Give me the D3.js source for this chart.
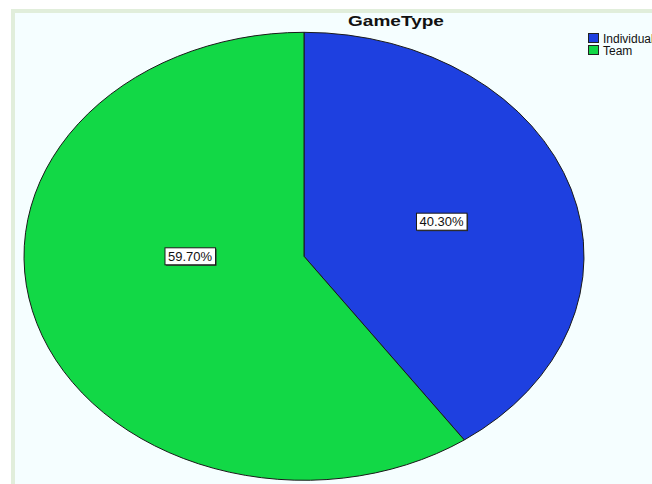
<!DOCTYPE html>
<html>
<head>
<meta charset="utf-8">
<script src="https://cdn.jsdelivr.net/npm/d3@7"></script>
<style>
  html, body { margin: 0; padding: 0; background: #ffffff; }
  svg { display: block; }
  text { font-family: "Liberation Sans", Arial, sans-serif; }
</style>
</head>
<body>
<svg id="chart" width="652" height="484"></svg>
<script>
// GameType shares
const categories = ["Individual", "Team"];
const percentages = [40.30, 59.70];
const sliceColors = ["#1e40e0", "#12d846"];
const chartTitle = "GameType";

const svg = d3.select("#chart");

// panel with a pale green frame
svg.append("rect")
  .attr("x", 13).attr("y", 11)
  .attr("width", 720).attr("height", 520)
  .attr("fill", "#f5feff")
  .attr("stroke", "#e1eedb")
  .attr("stroke-width", 4);

// title
svg.append("text")
  .attr("x", 396).attr("y", 26)
  .attr("text-anchor", "middle")
  .attr("font-size", 15)
  .attr("font-weight", "bold")
  .attr("fill", "#111")
  .attr("transform", "translate(396,0) scale(1.27,1) translate(-396,0)")
  .text(chartTitle);

// elliptical pie: circle of radius R stretched horizontally
const cx = 304, cy = 256.3, rx = 280, ry = 224;
const R = ry;
const pie = d3.pie().sort(null).value(d => d);
const arcs = pie(percentages);
const arc = d3.arc().innerRadius(0).outerRadius(R);

const g = svg.append("g")
  .attr("transform", `translate(${cx},${cy}) scale(${rx / R},1)`);

g.selectAll("path.slice")
  .data(arcs)
  .join("path")
  .attr("class", "slice")
  .attr("d", arc)
  .attr("fill", (d, i) => sliceColors[i])
  .attr("stroke", "#1a1a1a")
  .attr("stroke-width", 1)
  .attr("vector-effect", "non-scaling-stroke");

// label placement: angle (radians, clockwise from top) and radius fraction
const labelLayout = [
  { angle: d => (d.startAngle + d.endAngle) / 2, frac: 0.515 },
  { angle: d => Math.PI * 1.5, frac: 0.407 }
];

const fmt = v => v.toFixed(2) + "%";

arcs.forEach((d, i) => {
  const a = labelLayout[i].angle(d);
  const f = labelLayout[i].frac;
  const lx = cx + rx * f * Math.sin(a);
  const ly = cy - ry * f * Math.cos(a);
  const lg = svg.append("g");
  const t = lg.append("text")
    .attr("x", lx).attr("y", ly)
    .attr("text-anchor", "middle")
    .attr("dominant-baseline", "central")
    .attr("font-size", 13)
    .attr("fill", "#111")
    .text(fmt(d.data));
  const bb = t.node().getBBox();
  const padX = 3, padY = 1;
  lg.insert("rect", "text")
    .attr("x", bb.x - padX + 1).attr("y", bb.y - padY + 1)
    .attr("width", bb.width + 2 * padX).attr("height", bb.height + 2 * padY)
    .attr("fill", "#333");
  lg.insert("rect", "text")
    .attr("x", bb.x - padX).attr("y", bb.y - padY)
    .attr("width", bb.width + 2 * padX).attr("height", bb.height + 2 * padY)
    .attr("fill", "#ffffff")
    .attr("stroke", "#1a1a1a")
    .attr("stroke-width", 1);
});

// legend
const legend = svg.append("g").attr("transform", "translate(588,33)");
const rows = legend.selectAll("g.row")
  .data(categories)
  .join("g")
  .attr("class", "row")
  .attr("transform", (d, i) => `translate(0,${i * 12})`);
rows.append("rect")
  .attr("x", 0.5).attr("y", 0.5)
  .attr("width", 10).attr("height", 9)
  .attr("fill", (d, i) => sliceColors[i])
  .attr("stroke", "#222")
  .attr("stroke-width", 1);
rows.append("text")
  .attr("x", 15).attr("y", 9.5)
  .attr("font-size", 12)
  .attr("fill", "#111")
  .text(d => d);
</script>
</body>
</html>
